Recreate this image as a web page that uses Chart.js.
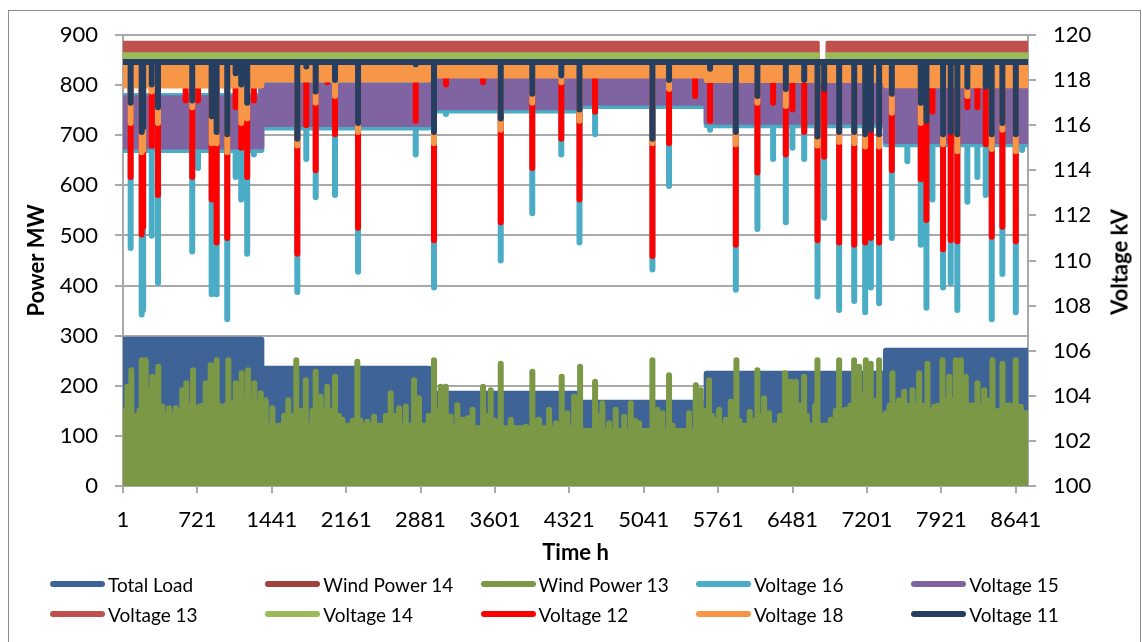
<!DOCTYPE html>
<html>
<head>
    <title>Power and Voltage</title>
    <script src="https://cdn.jsdelivr.net/npm/chart.js"></script>
    <style>
        body {
            margin: 0;
            background-color: #fff;
            font-family: Lato, sans-serif;
        }
        #frame {
            position: absolute;
            left: 8px;
            top: 10px;
            width: 1131px;
            height: 640px;
            border: 1px solid #8c8c8c;
        }
        #myChart {
            position: absolute;
            left: 0;
            top: 0;
        }
        #voltTitle {
            position: absolute;
            left: 1119px;
            top: 262px;
            transform: translate(-50%, -50%) rotate(-90deg);
            font: bold 22px Lato, sans-serif;
            white-space: nowrap;
            color: #000;
        }
        #legend {
            position: absolute;
            left: 50px;
            top: 569px;
            display: grid;
            grid-template-columns: repeat(5, 215.3px);
            grid-auto-rows: 30px;
            font: 19px Lato, sans-serif;
            color: #000;
        }
        #legend .item {
            display: flex;
            align-items: center;
            white-space: nowrap;
        }
        #legend .swatch {
            width: 55px;
            height: 6px;
            border-radius: 3px;
            margin-right: 3px;
        }
    </style>
</head>
<body>
    <div id="frame"></div>
    <canvas id="myChart" width="1142" height="642"></canvas>
    <div id="voltTitle">Voltage kV</div>
    <div id="legend"></div>
<script>
// hours of the year
var firstHour = 1;
var lastHour = 8760;
var hourTicks = [1, 721, 1441, 2161, 2881, 3601, 4321, 5041, 5761, 6481, 7201, 7921, 8641];

// the year splits into periods where the bands stay at one level
var periodStart = [1, 1340, 2960, 4400, 5650, 7385];

// Total Load upper edge, MW (one value per period)
var loadTop = [292, 234, 184, 166, 224, 270];
// solid part of the wind power mass, MW (one value per period)
var wind13Base = [140, 120, 115, 110, 120, 145];

// voltage bands, kV (one value per period)
var v18Top = [118.55, 118.55, 118.55, 118.55, 118.55, 118.55];
var v18Bottom = [117.76, 118.03, 118.2, 118.2, 118.0, 117.77];
var v15Top = [117.2, 117.75, 118.0, 118.05, 118.0, 117.9];
var v15Bottom = [115.05, 116.05, 116.8, 117.0, 116.15, 115.3];
var v16Top = [117.3, 117.85, 118.05, 118.1, 118.05, 117.95];
var v16Bottom = [114.9, 115.9, 116.65, 116.85, 116.0, 115.15];
var v13Band = [119.2, 119.68];
var v14Band = [118.95, 119.17];
var v11Level = 118.8;
var v12Level = 118.75;
var gapHours = [6730, 6815];   // Voltage 13 / 14 drop out here

// voltage dips: hour and lowest value of each series (null = no dip)
var spikeHours = [75, 182, 196, 279, 340, 608, 671, 727, 859, 907, 1010, 1091, 1145, 1203, 1268, 1688, 1775, 1866, 1978, 2053, 2276,
    2834, 3011, 3127, 3486, 3657, 3962, 4243, 4419, 4570, 5125, 5286, 5538, 5683, 5932, 6141, 6293, 6416, 6480, 6594, 6723,
    6787, 6932, 7078, 7184, 7239, 7319, 7442, 7592, 7722, 7777, 7835, 7938, 8012, 8076, 8173, 8270, 8351, 8409, 8512, 8642, 8703];
var v11Dip = [117.0, 115.7, 115.9, 117.8, 116.8, null, 117.1, null, 116.4, 115.7, 115.6, 118.3, 117.8, 117.0, null, 115.4, 118.6, 117.5, null, 118.0, 116.1,
    118.7, 115.7, null, null, 116.3, 117.4, 118.2, 116.7, null, 115.4, 118.0, null, 118.5, 115.7, 117.3, null, 117.6, null, 118.0, 115.5,
    117.6, 115.7, 115.7, 115.6, 115.8, 115.6, 117.4, null, 117.0, 116.2, null, 115.6, 115.7, 115.6, 117.7, null, 117.7, 115.6, 116.1, 115.6, null];
var v18Dip = [116.1, 114.8, 114.9, 117.5, 116.1, null, 116.8, null, 115.2, 115.2, 114.8, null, 116.1, 116.3, null, 115.1, null, 117.0, null, 117.3, 115.7,
    null, 115.2, null, null, 115.8, 117.0, 117.9, 116.2, null, 115.2, 117.6, null, null, 115.15, 117.0, null, 116.85, null, null, 115.1,
    null, 115.25, 115.2, 115.05, null, 115.05, 116.55, null, 116.1, null, null, 115.15, null, 114.85, 117.3, null, null, 114.95, 115.8, 114.85, null];
var v12Dip = [113.7, 111.15, 111.5, 115.1, 112.9, 117.1, 113.7, 117.1, 112.7, 110.8, 111.0, 116.8, 115.0, 113.7, 117.1, 110.3, 116.0, 114.0, 117.9, 115.6, 111.45,
    116.2, 110.9, 117.8, 117.9, 111.7, 114.1, 115.4, 112.7, 116.6, 110.2, 115.2, 117.3, 116.2, 110.7, 113.9, 117.0, 114.7, 116.7, 115.7, 110.9,
    114.6, 110.8, 110.7, 110.8, 111.0, 110.8, 114.0, null, 113.6, 111.8, 116.6, 110.5, 110.9, 110.85, 116.8, 116.8, 115.15, 111.05, 111.5, 110.85, null];
var v16Dip = [110.55, 107.6, 107.8, 111.1, 109.0, null, 110.4, 114.1, 108.5, 108.5, 107.4, 113.7, 112.7, 110.3, 114.7, 108.6, 114.5, 112.8, null, 112.9, 109.5,
    114.7, 108.8, 116.5, null, 110.0, 112.1, 114.7, 110.8, 115.6, 109.6, 113.3, 116.9, 115.8, 108.7, 111.4, 114.5, 111.7, 115.0, 114.5, 108.4,
    111.9, 107.8, 108.2, 107.7, 108.8, 108.1, 111.0, 114.4, 110.7, 107.9, 112.7, 108.8, 109.0, 107.8, 112.6, 113.7, 112.9, 107.4, 109.4, 107.7, 114.9];

// wind power readings [hour, MW]
var wind13Power = [
    [1, 150], [43, 198], [62, 150], [82, 231], [100, 140], [124, 138], [160, 150], [182, 251], [200, 160], [221, 251], [240, 165], [253, 191],
    [268, 160], [285, 218], [315, 160], [343, 238], [362, 150], [382, 158], [446, 155], [511, 155], [550, 150], [575, 191], [595, 165], [614, 205],
    [645, 160], [679, 231], [705, 150], [737, 158], [770, 160], [801, 205], [825, 170], [850, 241], [878, 170], [908, 251], [935, 160], [962, 150],
    [990, 160], [1020, 251], [1055, 165], [1092, 205], [1120, 170], [1150, 225], [1180, 175], [1211, 231], [1240, 170], [1272, 205], [1300, 165],
    [1334, 185], [1382, 171], [1447, 155], [1511, 118], [1560, 140], [1601, 171], [1640, 140], [1678, 251], [1720, 150], [1770, 211], [1802, 111],
    [1835, 150], [1866, 228], [1890, 150], [1914, 178], [1945, 150], [1978, 198], [2015, 150], [2053, 218], [2090, 140], [2124, 132], [2182, 65],
    [2225, 130], [2269, 248], [2300, 130], [2366, 128], [2431, 138], [2495, 118], [2545, 140], [2592, 185], [2630, 140], [2673, 155],
    [2738, 158], [2818, 211], [2840, 150], [2866, 175], [2915, 110], [2960, 140], [3011, 251], [3040, 150], [3076, 198], [3100, 150], [3125, 198],
    [3173, 138], [3237, 161], [3286, 132], [3334, 135], [3383, 152], [3447, 105], [3486, 198], [3520, 140], [3560, 191], [3600, 130], [3657, 244],
    [3705, 92], [3754, 132], [3802, 105], [3899, 118], [3963, 228], [4000, 130], [4028, 132], [4125, 152], [4190, 125], [4247, 218], [4275, 140],
    [4302, 145], [4367, 178], [4425, 238], [4480, 65], [4570, 208], [4600, 140], [4641, 165], [4706, 125], [4770, 152], [4851, 138], [4915, 165],
    [4960, 130], [4996, 125], [5061, 78], [5125, 251], [5150, 140], [5173, 152], [5222, 145], [5286, 221], [5320, 120], [5351, 105], [5415, 78],
    [5480, 145], [5545, 201],
    [5593, 191], [5630, 150], [5673, 211], [5700, 140], [5722, 132], [5770, 152], [5835, 132], [5883, 168], [5910, 140], [5938, 251], [5965, 130],
    [5996, 105], [6067, 148], [6100, 130], [6141, 231], [6170, 140], [6206, 175], [6254, 145], [6319, 98], [6360, 140], [6409, 225], [6440, 160],
    [6464, 208], [6490, 160], [6513, 208], [6550, 160], [6593, 218], [6620, 140], [6641, 118], [6700, 160], [6722, 251], [6745, 60], [6770, 20],
    [6800, 60], [6851, 132], [6900, 150], [6932, 251], [6965, 150], [6996, 152], [7040, 160], [7077, 251], [7100, 180], [7125, 238], [7160, 180],
    [7190, 251], [7215, 190], [7238, 244], [7280, 170], [7319, 251], [7350, 140], [7384, 105], [7420, 160], [7448, 225], [7480, 160], [7513, 171],
    [7561, 188], [7600, 160], [7642, 191], [7675, 160], [7706, 225], [7740, 160], [7787, 244], [7820, 150], [7852, 158], [7890, 160], [7932, 251],
    [7965, 170], [7997, 218], [8030, 170], [8061, 251], [8085, 180], [8110, 251], [8135, 180], [8158, 218], [8190, 160], [8223, 161], [8250, 160],
    [8271, 205], [8300, 160], [8336, 191], [8375, 170], [8416, 251], [8440, 150], [8464, 118], [8490, 150], [8513, 244], [8545, 160], [8577, 161],
    [8610, 160], [8642, 251], [8665, 150], [8690, 158], [8722, 118], [8760, 78]
];
// mostly hidden under Wind Power 13
var wind14Power = [[1, 55], [6740, 55], [6770, 15], [6800, 55], [8760, 55]];

var seriesNames = ['Total Load', 'Wind Power 14', 'Wind Power 13', 'Voltage 16', 'Voltage 15',
    'Voltage 13', 'Voltage 14', 'Voltage 12', 'Voltage 18', 'Voltage 11'];
var seriesColors = ['#3E6497', '#A0413C', '#7B9846', '#4BACC6', '#8064A2',
    '#C0504D', '#9BBB59', '#FF0000', '#F79646', '#263F61'];

// ---- helpers that turn the arrays into points ----
function levelAt(levels, h) {
    var i = 0;
    while (i + 1 < periodStart.length && periodStart[i + 1] <= h) i++;
    return levels[i];
}

function stepPoints(levels) {
    var pts = [];
    for (var i = 0; i < periodStart.length; i++) {
        var end = i + 1 < periodStart.length ? periodStart[i + 1] : lastHour;
        pts.push({x: periodStart[i], y: levels[i]});
        pts.push({x: end, y: levels[i]});
    }
    return pts;
}

// spikes go straight up/down from the period level
function withSpikes(levels, hours, values) {
    var pts = stepPoints(levels);
    hours.forEach(function (h, i) {
        if (values[i] === null) return;
        var lv = levelAt(levels, h);
        pts.push({x: h, y: lv}, {x: h, y: values[i]}, {x: h, y: lv});
    });
    return pts.sort(function (a, b) { return a.x - b.x; });
}

function edgeWithDips(levels, dips) {
    return withSpikes(levels, spikeHours, dips || spikeHours.map(function () { return null; }));
}

function bandShape(top, bottom, dips) {
    return stepPoints(top).concat(edgeWithDips(bottom, dips).reverse());
}

function gapBand(band) {
    var lo = band[0], hi = band[1], g0 = gapHours[0], g1 = gapHours[1];
    return [
        {x: firstHour, y: hi}, {x: g0, y: hi}, {x: g0, y: v11Level}, {x: g1, y: v11Level}, {x: g1, y: hi}, {x: lastHour, y: hi},
        {x: lastHour, y: lo}, {x: g1, y: lo}, {x: g1, y: v11Level}, {x: g0, y: v11Level}, {x: g0, y: lo}, {x: firstHour, y: lo}
    ];
}

function flat(v) {
    return periodStart.map(function () { return v; });
}

function pairs(list) {
    return list.map(function (p) { return {x: p[0], y: p[1]}; });
}

var windHours = wind13Power.map(function (p) { return p[0]; });
var windValues = wind13Power.map(function (p) { return p[1]; });

var seriesData = [
    {data: stepPoints(loadTop), axis: 'y', fill: 'origin', width: 6},
    {data: pairs(wind14Power), axis: 'y', fill: 'origin', width: 5},
    {data: withSpikes(wind13Base, windHours, windValues), axis: 'y', fill: 'origin', width: 6},
    {data: bandShape(v16Top, v16Bottom, v16Dip), axis: 'y1', fill: 'shape', width: 6},
    {data: bandShape(v15Top, v15Bottom, null), axis: 'y1', fill: 'shape', width: 6},
    {data: gapBand(v13Band), axis: 'y1', fill: 'shape', width: 3},
    {data: gapBand(v14Band), axis: 'y1', fill: 'shape', width: 3},
    {data: edgeWithDips(flat(v12Level), v12Dip), axis: 'y1', fill: false, width: 6},
    {data: bandShape(v18Top, v18Bottom, v18Dip), axis: 'y1', fill: 'shape', width: 6},
    {data: edgeWithDips(flat(v11Level), v11Dip), axis: 'y1', fill: false, width: 6}
];

var datasets = seriesData.map(function (s, i) {
    return {
        label: seriesNames[i],
        data: s.data,
        yAxisID: s.axis,
        borderColor: seriesColors[i],
        backgroundColor: seriesColors[i],
        borderWidth: s.width,
        fill: s.fill,
        pointRadius: 0,
        tension: 0,
        borderJoinStyle: 'round',
        borderCapStyle: 'round',
        order: seriesNames.length - i   // later series drawn on top
    };
});

var gridGray = '#A9A9A9';
var tickFont = {family: 'Lato', size: 22};
var titleFont = {family: 'Lato', size: 22, weight: 'bold'};

var ctx = document.getElementById('myChart').getContext('2d');
var myChart = new Chart(ctx, {
    type: 'line',
    data: {datasets: datasets},
    options: {
        responsive: false,
        animation: false,
        events: [],
        layout: {padding: {top: 35, left: 0, right: 0, bottom: 0}},
        plugins: {
            legend: {display: false},
            tooltip: {enabled: false}
        },
        scales: {
            x: {
                type: 'linear',
                bounds: 'data',
                min: firstHour,
                max: lastHour,
                afterBuildTicks: function (scale) {
                    scale.ticks = hourTicks.map(function (v) { return {value: v}; });
                },
                afterFit: function (scale) { scale.height = 156; },
                grid: {drawOnChartArea: false, color: gridGray, lineWidth: 2, tickLength: 7},
                border: {color: gridGray, width: 2},
                ticks: {
                    autoSkip: false,
                    maxRotation: 0,
                    padding: 14,
                    color: '#000',
                    font: tickFont,
                    callback: function (v) { return String(v); }
                },
                title: {display: true, text: 'Time h', color: '#000', font: titleFont, padding: {top: 0, bottom: 76}}
            },
            y: {
                position: 'left',
                min: 0,
                max: 900,
                ticks: {stepSize: 100, padding: 17, color: '#000', font: tickFont},
                grid: {color: gridGray, lineWidth: 2, tickLength: 8},
                border: {color: gridGray, width: 2},
                afterFit: function (scale) { scale.width = 123; },
                title: {display: true, text: 'Power MW', color: '#000', font: titleFont, padding: {top: 24, bottom: 0}}
            },
            y1: {
                position: 'right',
                min: 100,
                max: 120,
                ticks: {stepSize: 2, padding: 17, color: '#000', font: tickFont},
                grid: {drawOnChartArea: false, color: gridGray, lineWidth: 2, tickLength: 8},
                border: {color: gridGray, width: 2},
                afterFit: function (scale) { scale.width = 114; }
            }
        }
    }
});

// legend in five columns like the original
var html = '';
for (var i = 0; i < seriesNames.length; i++) {
    html += '<div class="item"><span class="swatch" style="background:' + seriesColors[i] + '"></span>' + seriesNames[i] + '</div>';
}
document.getElementById('legend').innerHTML = html;
</script>
</body>
</html>
